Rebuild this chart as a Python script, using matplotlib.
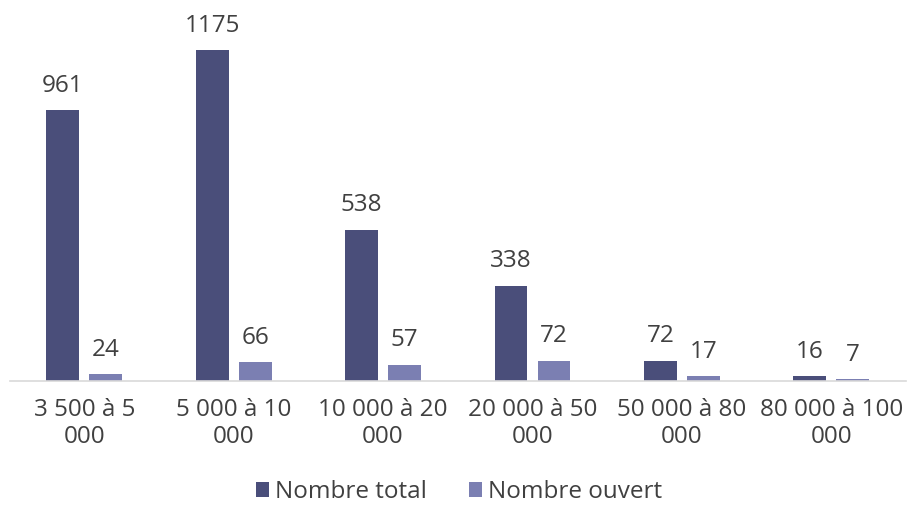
import matplotlib.pyplot as plt
import numpy as np

categories = ["3 500 à 5\n000", "5 000 à 10\n000", "10 000 à 20\n000",
              "20 000 à 50\n000", "50 000 à 80\n000", "80 000 à 100\n000"]
total = [961, 1175, 538, 338, 72, 16]
ouvert = [24, 66, 57, 72, 17, 7]

c_total = "#4a4e7a"
c_ouvert = "#7b7fb2"
ct = "#404040"

plt.rcParams['font.family'] = ['Open Sans', 'DejaVu Sans']

fig = plt.figure(figsize=(9.09, 5.05), dpi=100)
ax = fig.add_axes([9.5 / 909, 1 - 381 / 505, (906 - 9.5) / 909, 366 / 505])

x = np.arange(len(categories))
w = 0.22
off = 0.144
b1 = ax.bar(x - off, total, w, color=c_total, label="Nombre total")
b2 = ax.bar(x + off, ouvert, w, color=c_ouvert, label="Nombre ouvert")

for bars in (b1, b2):
    for r in bars:
        ax.annotate(f"{int(r.get_height())}", (r.get_x() + r.get_width() / 2, r.get_height()),
                    xytext=(0, 9), textcoords="offset points", ha="center", va="bottom",
                    fontsize=17.5, color=ct)

ax.set_xlim(-0.5, len(categories) - 0.5)
ax.set_ylim(0, 1300)
ax.set_xticks(x)
ax.set_xticklabels(categories, fontsize=17.5, color=ct, linespacing=1.2)
ax.tick_params('both', length=0, pad=12)
ax.set_yticks([])
for s in ("top", "right", "left"):
    ax.spines[s].set_visible(False)
ax.spines["bottom"].set_color("#d9d9d9")
ax.spines["bottom"].set_linewidth(1.2)

fig.legend(loc="center", bbox_to_anchor=(0.505, 1 - 492 / 505), ncol=2, frameon=False,
           fontsize=17.5, labelcolor=ct, handlelength=0.55, handleheight=0.55,
           handletextpad=0.25, columnspacing=1.7, borderpad=0.2)

plt.savefig("out.png", dpi=100)
